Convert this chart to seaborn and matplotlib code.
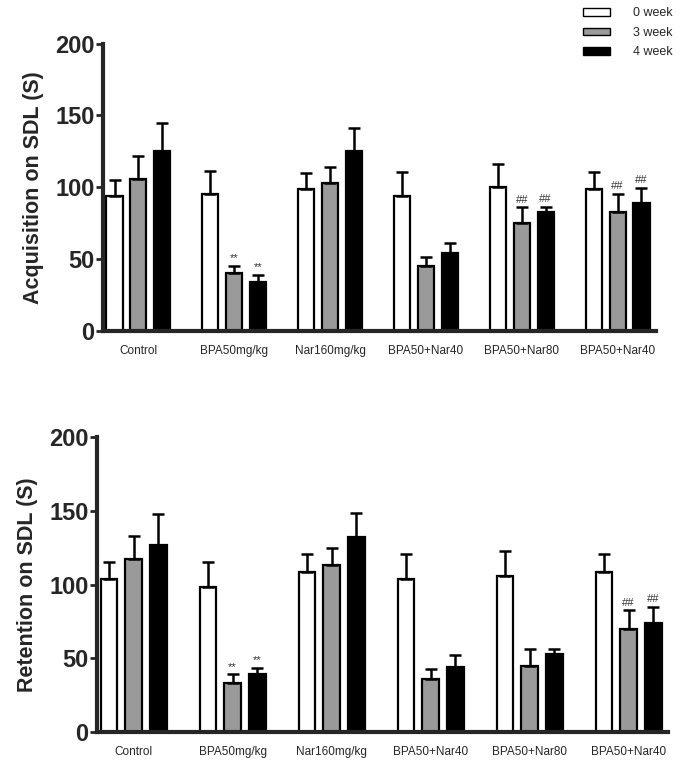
import matplotlib
matplotlib.use("Agg")
import matplotlib.pyplot as plt
from matplotlib.patches import Patch
import seaborn as sns
import numpy as np
import pandas as pd

groups = ["Control", "BPA50mg/kg", "Nar160mg/kg", "BPA50+Nar40", "BPA50+Nar80", "BPA50+Nar40"]
weeks = ["0 week", "3 week", "4 week"]
colors = ["white", "#9a9a9a", "black"]

# acquisition (top panel): mean and upper error per week
acq_mean = {
    "0 week": [94, 95, 99, 94, 100, 99],
    "3 week": [106, 40, 103, 45.5, 75, 83],
    "4 week": [125, 34, 125, 54, 83, 89],
}
acq_err = {
    "0 week": [11, 16, 11, 16.5, 16, 11.5],
    "3 week": [16, 5.5, 11, 6, 11, 12.5],
    "4 week": [20, 5, 16, 7, 3.5, 10.5],
}
acq_marks = {
    "3 week": ["", "**", "", "", "##", "##"],
    "4 week": ["", "**", "", "", "##", "##"],
}

# retention (bottom panel)
ret_mean = {
    "0 week": [104, 98, 108.5, 104, 105.5, 108.5],
    "3 week": [117, 33, 113, 36, 45, 70],
    "4 week": [127, 39, 132, 44, 53, 74],
}
ret_err = {
    "0 week": [11.5, 17, 12, 16.5, 17, 12],
    "3 week": [16, 6, 11.5, 6.5, 11, 12.5],
    "4 week": [20.5, 4.5, 16.5, 8, 3.5, 11],
}
ret_marks = {
    "3 week": ["", "**", "", "", "", "##"],
    "4 week": ["", "**", "", "", "", "##"],
}

sns.set_style("ticks")
plt.rcParams["font.family"] = ["Liberation Sans", "DejaVu Sans"]


def panel(ax, means, errs, marks, ylabel):
    rows = []
    for w in weeks:
        for i, v in enumerate(means[w]):
            rows.append({"group": i, "week": w, "value": v})
    df = pd.DataFrame(rows)
    sns.barplot(data=df, x="group", y="value", hue="week", hue_order=weeks,
                palette=colors, edgecolor="black", linewidth=1.6,
                width=0.75, gap=0.33, errorbar=None, legend=False, ax=ax)
    for k, w in enumerate(weeks):
        bars = ax.containers[k]
        xs = np.array([b.get_x() + b.get_width() / 2 for b in bars])
        ys = np.array(means[w])
        es = np.array(errs[w])
        ax.errorbar(xs, ys, yerr=[np.zeros_like(es), es], fmt="none",
                    ecolor="black", elinewidth=1.8, capsize=4, capthick=1.8)
        if w in marks:
            for x, y, e, m in zip(xs, ys, es, marks[w]):
                if m:
                    ax.annotate(m, (x, y + e), xytext=(0, 2), textcoords="offset points",
                                ha="center", va="bottom", fontsize=8, color="#333333")
    ax.set_ylim(0, 200)
    ax.set_yticks([0, 50, 100, 150, 200])
    ax.set_xlim(-0.37, 5.4)
    ax.set_xticks(range(len(groups)))
    ax.set_xticklabels(groups, fontsize=8.5)
    ax.tick_params(axis="x", length=0, pad=10)
    ax.tick_params(axis="y", length=5, width=2, direction="out", pad=1)
    for t in ax.get_yticklabels():
        t.set_fontsize(17)
        t.set_fontweight("bold")
    ax.set_xlabel("")
    ax.set_ylabel(ylabel, fontsize=15.5, fontweight="bold", labelpad=8)
    for s in ["left", "bottom"]:
        ax.spines[s].set_linewidth(3)
    sns.despine(ax=ax)


fig = plt.figure(figsize=(6.8, 7.66), dpi=100)
ax1 = fig.add_axes([0.1515, 0.568, 0.813, 0.375])
ax2 = fig.add_axes([0.1426, 0.0444, 0.84, 0.385])

panel(ax1, acq_mean, acq_err, acq_marks, "Acquisition on SDL (S)")
panel(ax2, ret_mean, ret_err, ret_marks, "Retention on SDL (S)")

handles = [Patch(facecolor=c, edgecolor="black", linewidth=1) for c in colors]
fig.legend(handles, weeks, loc="upper right", bbox_to_anchor=(1.005, 1.005),
           frameon=False, fontsize=9, handlelength=2.2, handleheight=0.6,
           labelspacing=0.6, handletextpad=1.8)

fig.savefig("out.png", dpi=100)
